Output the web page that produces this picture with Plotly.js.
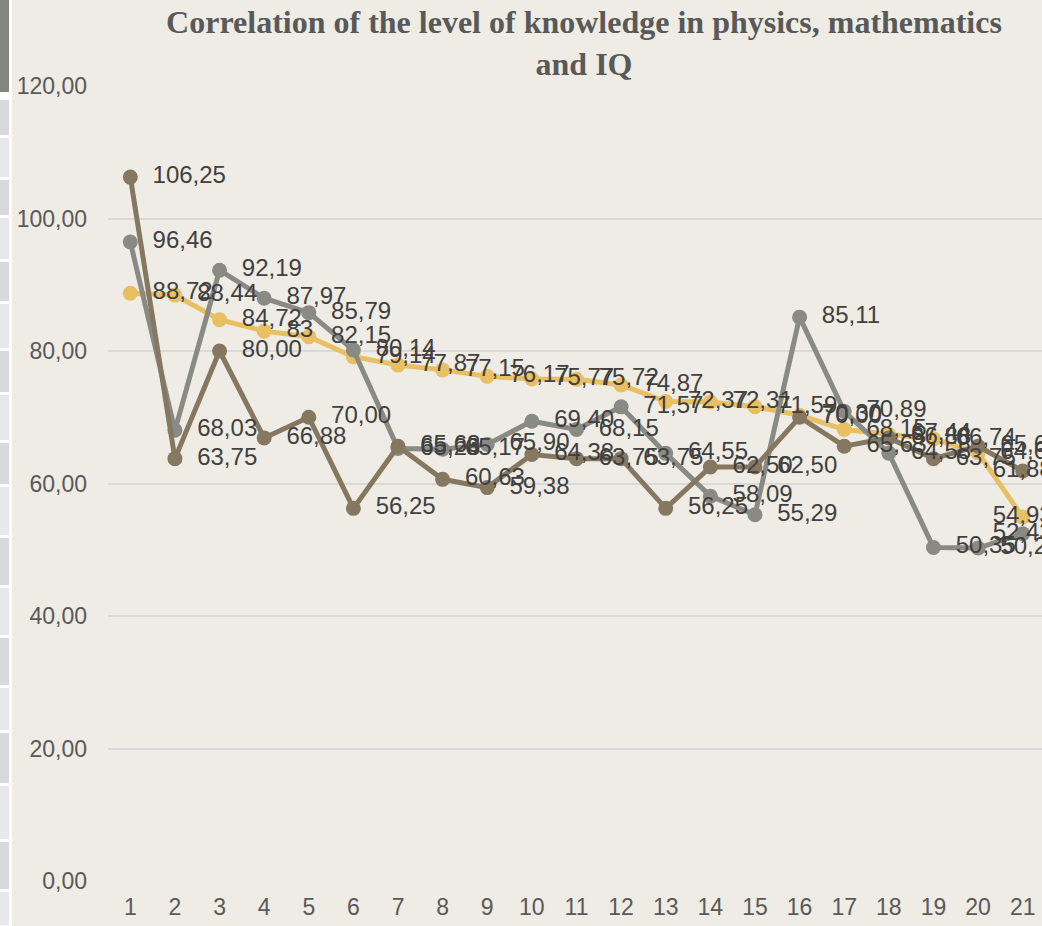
<!DOCTYPE html>
<html>
<head>
<meta charset="utf-8">
<script src="https://cdn.plot.ly/plotly-3.0.1.min.js"></script>
<style>
  html, body { margin: 0; padding: 0; overflow: hidden; background: #EEECE4; }
  #wrap { position: relative; width: 1042px; height: 926px; overflow: hidden; }
  #chart { position: absolute; left: 0; top: 0; }
  #strip { position: absolute; left: 0; top: 0; width: 12px; height: 926px; background: #ffffff; z-index: 5; }
  #strip div { position: absolute; left: 0; width: 9px; }
</style>
</head>
<body>
<div id="wrap">
  <div id="chart"></div>
  <div id="strip"></div>
</div>
<script>
// ---- data ----
var categories = [1, 2, 3, 4, 5, 6, 7, 8, 9, 10, 11, 12, 13, 14, 15, 16, 17, 18, 19, 20, 21];
var physics = [106.25, 63.75, 80.00, 66.88, 70.00, 56.25, 65.63, 60.63, 59.38, 64.38, 63.75,
               63.75, 56.25, 62.50, 62.50, 70.00, 65.63, 66.88, 63.75, 65.63, 61.88];
var mathematics = [96.46, 68.03, 92.19, 87.97, 85.79, 80.14, 65.28, 65.17, 65.90, 69.40, 68.15,
                   71.57, 64.55, 58.09, 55.29, 85.11, 70.89, 64.58, 50.35, 50.26, 52.43];
var iq = [88.72, 88.44, 84.72, 83, 82.15, 79.14, 77.87, 77.15, 76.17, 75.77, 75.72,
          74.87, 72.37, 72.31, 71.59, 70.30, 68.15, 67.44, 66.74, 64.63, 54.93];
var yTicks = [0, 20, 40, 60, 80, 100, 120];
var titleText = 'Correlation of the level of knowledge in physics, mathematics<br>and IQ';

// ---- styles ----
var colBrown = '#867760';
var colGray = '#8A8A85';
var colYellow = '#E8BF62';
var bg = '#EEECE4';

function fmt2(v) { return v.toFixed(2).replace('.', ','); }
function fmtTrim(v) { return Number.isInteger(v) ? String(v) : fmt2(v); }
function positions(arr) {
  return arr.map(function (v, i) { return i === arr.length - 1 ? 'middle center' : 'middle right'; });
}

function lineTrace(name, ys, color) {
  return {
    x: categories, y: ys, name: name, type: 'scatter', mode: 'lines+markers',
    line: { color: color, width: 5 },
    marker: { color: color, size: 15 },
    hoverinfo: 'skip', showlegend: false
  };
}
function labelTrace(ys, formatter) {
  return {
    x: categories, y: ys, type: 'scatter', mode: 'markers+text',
    text: ys.map(formatter),
    textposition: positions(ys),
    textfont: { family: 'Liberation Sans, Arial, sans-serif', size: 24, color: '#404040' },
    marker: { size: 34, color: 'rgba(0,0,0,0)' },
    hoverinfo: 'skip', showlegend: false, cliponaxis: false
  };
}

var data = [
  lineTrace('IQ', iq, colYellow),
  lineTrace('Mathematics', mathematics, colGray),
  lineTrace('Physics', physics, colBrown),
  labelTrace(physics, fmt2),
  labelTrace(mathematics, fmt2),
  labelTrace(iq, fmtTrim)
];

var W = 1060, H = 926;
var layout = {
  width: W, height: H,
  margin: { l: 108, r: 15, t: 86, b: 45 },
  paper_bgcolor: bg, plot_bgcolor: bg,
  separators: ', ',
  title: {
    text: '<b>' + titleText + '</b>',
    font: { family: 'Liberation Serif, Times New Roman, serif', size: 32, color: '#595959' },
    x: 584 / W, xanchor: 'center', xref: 'container',
    y: 1 - 33 / H, yanchor: 'top', yref: 'container'
  },
  xaxis: {
    type: 'linear', range: [0.5, 21.5],
    tickmode: 'array', tickvals: categories, ticktext: categories.map(String),
    showgrid: false, zeroline: false, showline: false, ticks: '',
    tickfont: { family: 'Liberation Sans, Arial, sans-serif', size: 23, color: '#595959' },
    ticklabelstandoff: 10
  },
  yaxis: {
    range: [0, 120], tickmode: 'array', tickvals: yTicks, tickformat: '.2f',
    showgrid: true, gridcolor: '#D9D9D9', gridwidth: 2, zeroline: false, showline: false, ticks: '',
    tickfont: { family: 'Liberation Sans, Arial, sans-serif', size: 23, color: '#595959' },
    ticklabelstandoff: 20
  },
  showlegend: false
};

Plotly.newPlot('chart', data, layout, { displayModeBar: false, staticPlot: true });

// decorative spreadsheet strip on the far left
var strip = document.getElementById('strip');
var top0 = document.createElement('div');
top0.style.top = '0px'; top0.style.height = '92px'; top0.style.background = '#85857F';
strip.appendChild(top0);
var edges = [98, 136, 178, 216, 260, 302, 349, 393, 441, 485, 536, 586, 636, 686, 731, 784, 840, 890, 926];
for (var i = 0; i < edges.length - 1; i++) {
  var d = document.createElement('div');
  d.style.top = (edges[i] + 2) + 'px';
  d.style.height = (edges[i + 1] - edges[i] - 3) + 'px';
  d.style.background = (i % 2 === 0) ? '#D9D9D9' : '#E8E8E8';
  strip.appendChild(d);
}
</script>
</body>
</html>
